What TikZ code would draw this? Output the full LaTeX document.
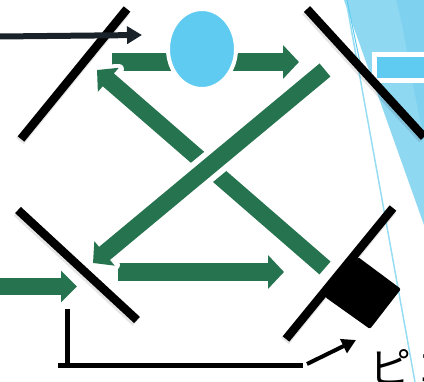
\documentclass[tikz,border=0pt]{standalone}
\usepackage{fontspec}
\newfontfamily\cjkfont{Noto Sans CJK JP}
\usetikzlibrary{arrows.meta,shapes.geometric}
\definecolor{gr}{HTML}{26734F}
\definecolor{sky}{HTML}{5FCBF1}
\definecolor{pale}{HTML}{8FD8F2}
\definecolor{mid}{HTML}{7ED2F0}
\definecolor{hair}{HTML}{96DDF3}
\definecolor{ink}{HTML}{1A2229}
\tikzset{
  mirrorline/.style={line width=8.5pt,black},
  mirrorshade/.style={line width=10pt,black,opacity=.10,shift={(-1pt,-2pt)}},
  bigarrow/.style={gr,line width=17pt,-{Triangle[length=15pt,width=31pt]}},
  flatarrow/.style={gr,line width=18pt,-{Triangle[length=16pt,width=33pt]}},
  casing/.style={white,line width=10pt,fill=white,line join=round},
  wire/.style={black,line width=5pt},
}
\newcommand{\mirrorbar}[2]{\draw[mirrorshade] #1 -- #2; \draw[mirrorline] #1 -- #2;}
\begin{document}
\begin{tikzpicture}[x=1pt,y=-1pt]
\useasboundingbox (0,0) rectangle (424,382);
\clip (0,0) rectangle (424,382);
% background panels
\fill[pale] (344,0) -- (424,225) -- (424,0) -- cycle;
\fill[mid] (396,0) -- (424,0) -- (424,135) .. controls (412,90) and (405,30) .. (396,0) -- cycle;
\draw[hair,line width=1.5pt] (346,0) -- (415,382);
\draw[sky,line width=1pt] (347,0) -- (362,72);
% blue box
\node[draw=white,fill=sky,line width=5pt,minimum width=60pt,minimum height=26pt,inner sep=0pt,anchor=west] (box) at (372,67.5) {};
% coordinates
\coordinate (topT) at (112,62);
\coordinate (topH) at (299,62);
\coordinate (botT) at (118,272);
\coordinate (botH) at (284,272);
\coordinate (inT) at (0,286.5);
\coordinate (inH) at (77,286.5);
\coordinate (aT) at (325,70);
\coordinate (aH) at (93,263);
\coordinate (bT) at (325,268);
\coordinate (bH) at (97,70);
% straight arrows
\draw[flatarrow] (topT) -- (topH);
\draw[flatarrow] (botT) -- (botH);
\draw[gr,line width=17pt,-{Triangle[length=16pt,width=31pt]}] (inT) -- (inH);
% diagonal arrow B with casing at its head
\draw[casing] (97,70) -- (98,92) -- (119,69) -- cycle;
\draw[bigarrow] (bT) -- (bH);
% crossing gap and diagonal arrow A
\draw[white,line width=28.6pt] (220,157.5) -- (197,176.5);
\draw[casing] (93,263) -- (95,242) -- (115,265) -- cycle;
\draw[bigarrow] (aT) -- (aH);
% source ellipse
\node[ellipse,draw=white,fill=sky,line width=4pt,minimum width=68pt,minimum height=80pt,inner sep=0pt] (src) at (202,49) {};
% mirrors
\mirrorbar{(127,9)}{(21,139)}
\mirrorbar{(307,9)}{(424,137)}
\mirrorbar{(18,210)}{(137,320)}
\mirrorbar{(393,208)}{(286,339)}
% detector
\fill[black,rounded corners=2pt] (358,257) -- (401,289) -- (370,329) -- (325,297) -- cycle;
% black arrow in
\coordinate (srcT) at (0,36.5);
\coordinate (srcH) at (142,35);
\draw[ink,line width=6pt,-{Triangle[length=15pt,width=17pt]}] (srcT) -- (srcH);
% wire
\coordinate (wA) at (67,309);
\coordinate (wB) at (67,366);
\coordinate (wC) at (58,366);
\coordinate (wD) at (303,366);
\coordinate (wE) at (307,364);
\coordinate (wF) at (356,340);
\draw[wire] (wA) -- (wB);
\draw[wire] (wC) -- (wD);
\draw[black,line width=4pt,-{Triangle[length=14pt,width=15pt]}] (wE) -- (wF);
% label
\node[anchor=base west,inner sep=0pt,font=\cjkfont\fontsize{42pt}{42pt}\selectfont] (lab) at (369,384) {ピ\hspace{5pt}コ};
\end{tikzpicture}
\end{document}
